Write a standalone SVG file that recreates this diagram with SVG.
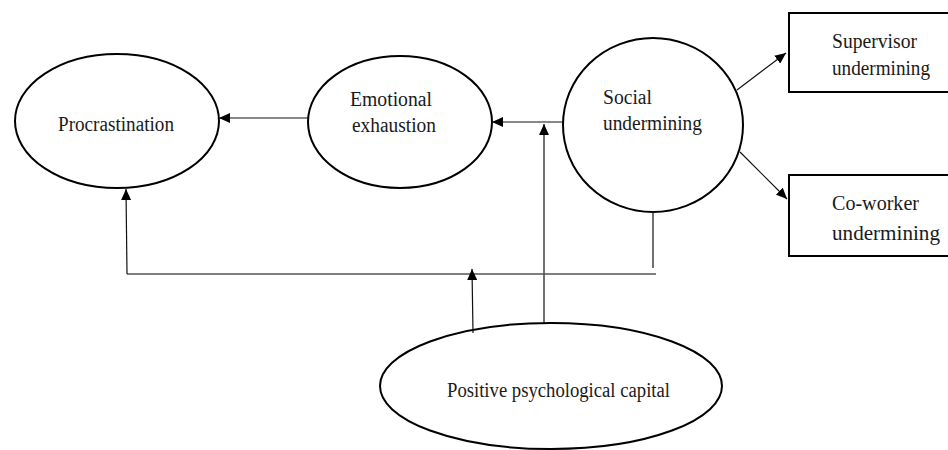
<svg xmlns="http://www.w3.org/2000/svg" width="948" height="450" viewBox="0 0 948 450">
<style>
.node{fill:#fff;stroke:#000;stroke-width:2}
.lbl{font-size:20px;fill:#1a1a1a}
.con{stroke:#111;stroke-width:1.2;fill:none}
.arr{marker-end:url(#ah)}
</style>
<defs>
<marker id="ah" markerUnits="userSpaceOnUse" markerWidth="11" markerHeight="10" refX="11" refY="5" orient="auto">
<path d="M0,0 L11,5 L0,10 z" fill="#000"/>
</marker>
</defs>
<rect width="948" height="450" fill="#fff"/>
<g font-family="'Liberation Serif', 'Times New Roman', serif">
<g id="procrastination">
<ellipse class="node" cx="117" cy="121" rx="102" ry="67"/>
<text class="lbl" x="58" y="131" textLength="116" lengthAdjust="spacingAndGlyphs">Procrastination</text>
</g>
<g id="emotional-exhaustion">
<ellipse class="node" cx="400" cy="122" rx="92" ry="66"/>
<text class="lbl" x="350" y="106" textLength="82" lengthAdjust="spacingAndGlyphs">Emotional</text>
<text class="lbl" x="352" y="132" textLength="84" lengthAdjust="spacingAndGlyphs">exhaustion</text>
</g>
<g id="social-undermining">
<ellipse class="node" cx="653" cy="125" rx="90" ry="87"/>
<text class="lbl" x="603" y="104" textLength="49" lengthAdjust="spacingAndGlyphs">Social</text>
<text class="lbl" x="603" y="130" textLength="99" lengthAdjust="spacingAndGlyphs">undermining</text>
</g>
<g id="supervisor-undermining">
<rect class="node" x="789" y="13" width="170" height="79"/>
<text class="lbl" x="832" y="48" textLength="85" lengthAdjust="spacingAndGlyphs">Supervisor</text>
<text class="lbl" x="832" y="75" textLength="98" lengthAdjust="spacingAndGlyphs">undermining</text>
</g>
<g id="coworker-undermining">
<rect class="node" x="789" y="175" width="170" height="81"/>
<text class="lbl" x="832" y="210" textLength="87" lengthAdjust="spacingAndGlyphs">Co-worker</text>
<text class="lbl" x="832" y="240" textLength="108" lengthAdjust="spacingAndGlyphs">undermining</text>
</g>
<g id="positive-psychological-capital">
<ellipse class="node" cx="551" cy="386" rx="171" ry="63"/>
<text class="lbl" x="447" y="397" textLength="223" lengthAdjust="spacingAndGlyphs">Positive psychological capital</text>
</g>
</g>
<g id="connectors">
<line class="con arr" x1="308" y1="118" x2="219" y2="118"/>
<line class="con arr" x1="563" y1="122" x2="492" y2="122"/>
<line class="con arr" x1="544" y1="323" x2="544" y2="124"/>
<line class="con arr" x1="737" y1="90" x2="786" y2="53"/>
<line class="con arr" x1="740" y1="152" x2="787" y2="199"/>
<line class="con" x1="653" y1="211" x2="653" y2="268"/>
<line x1="127" y1="274" x2="656" y2="274" stroke="#555" stroke-width="1.6"/>
<line class="con arr" x1="127" y1="274" x2="126" y2="189"/>
<line class="con arr" x1="473" y1="333" x2="472" y2="269"/>
</g>
</svg>
